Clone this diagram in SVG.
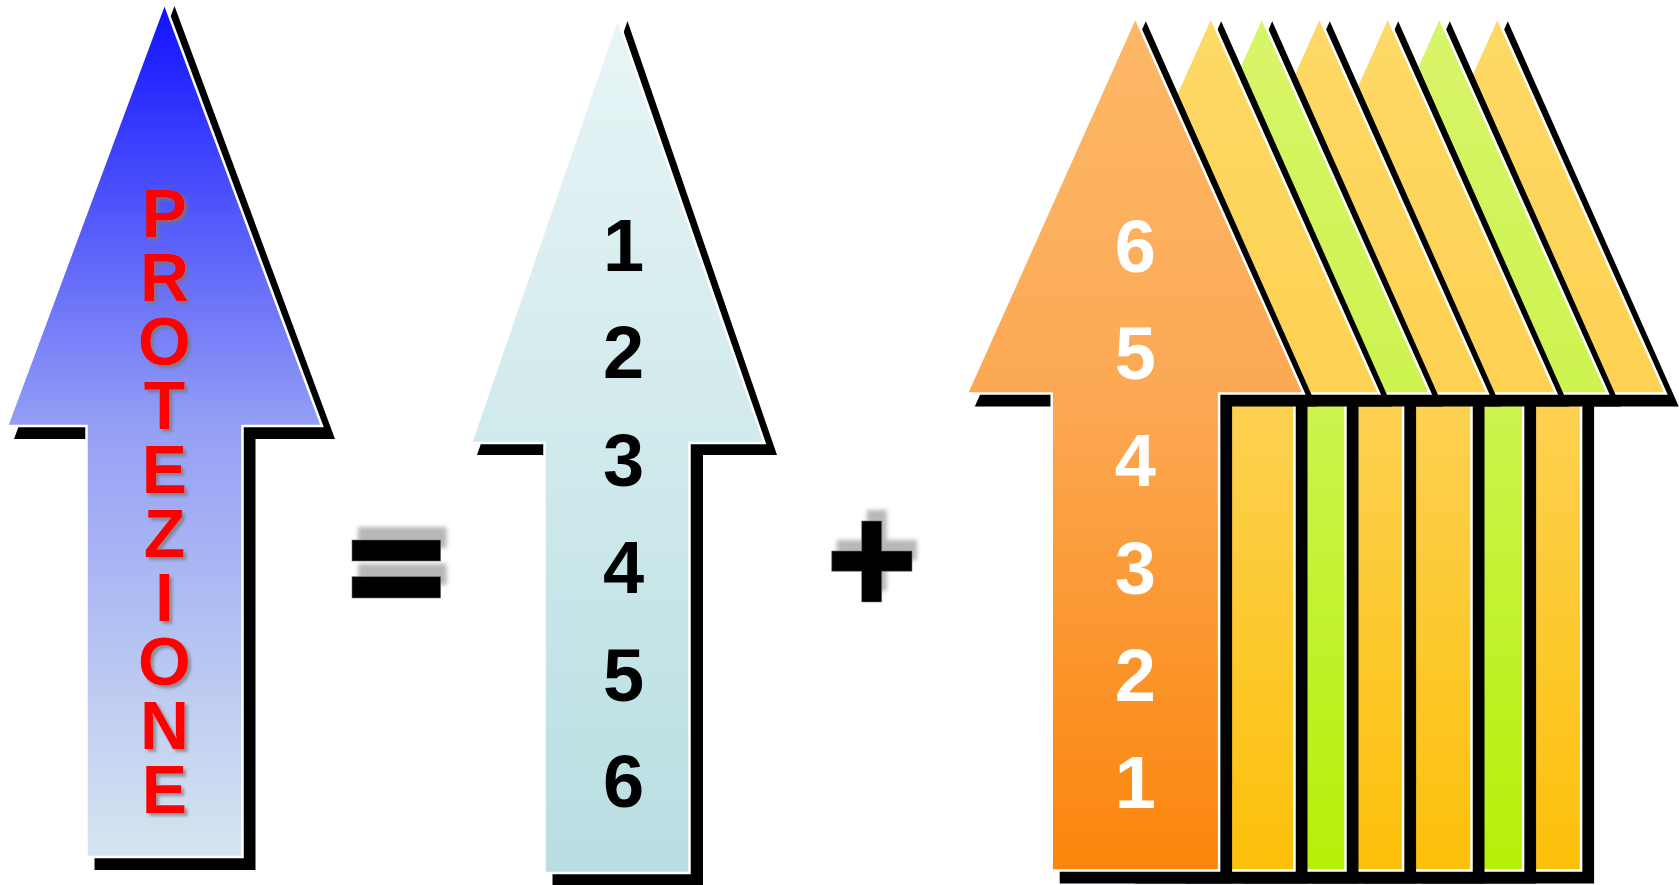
<svg xmlns="http://www.w3.org/2000/svg" xmlns:xlink="http://www.w3.org/1999/xlink" width="1679" height="885" viewBox="0 0 1679 885">
<style>
  .shadow { fill: #000; }
  .outline { stroke: #fff; stroke-width: 2.5; stroke-linejoin: miter; }
  .letter { font-family: "Liberation Sans", Arial, sans-serif; font-weight: bold; font-size: 68px; fill: #ff0000; text-anchor: middle; }
  .digit { font-family: "Liberation Sans", Arial, sans-serif; font-weight: bold; font-size: 74px; text-anchor: middle; }
  .dk { fill: #000; }
  .wt { fill: #fff; }
  .sym { fill: #000; stroke: #777; stroke-width: 0.6; }
  .symsh { fill: #b8b8b8; }
</style>
<defs>
  <linearGradient id="gBlue" x1="0" y1="0" x2="0" y2="1">
    <stop offset="0" stop-color="#1010ff"/>
    <stop offset="0.5" stop-color="#95a0f5"/>
    <stop offset="1" stop-color="#d6e6ef"/>
  </linearGradient>
  <linearGradient id="gCyan" x1="0" y1="0" x2="0" y2="1">
    <stop offset="0" stop-color="#e8f5f6"/>
    <stop offset="1" stop-color="#b8dee2"/>
  </linearGradient>
  <linearGradient id="gOrange" x1="0" y1="0" x2="0" y2="1">
    <stop offset="0" stop-color="#fdb868"/>
    <stop offset="0.45" stop-color="#fca853"/>
    <stop offset="1" stop-color="#fb850c"/>
  </linearGradient>
  <linearGradient id="gYellow" x1="0" y1="0" x2="0" y2="1">
    <stop offset="0" stop-color="#fdd966"/>
    <stop offset="0.45" stop-color="#fdd152"/>
    <stop offset="1" stop-color="#fcc00a"/>
  </linearGradient>
  <linearGradient id="gGreen" x1="0" y1="0" x2="0" y2="1">
    <stop offset="0" stop-color="#d8f56a"/>
    <stop offset="0.45" stop-color="#cdf34e"/>
    <stop offset="1" stop-color="#b6f008"/>
  </linearGradient>
  <filter id="txtSh" x="-30%" y="-30%" width="160%" height="160%">
    <feDropShadow dx="3" dy="3" stdDeviation="1.5" flood-color="#777" flood-opacity="0.7"/>
  </filter>
  <filter id="blur" x="-20%" y="-50%" width="140%" height="200%">
    <feGaussianBlur stdDeviation="2.2"/>
  </filter>
  <path id="arR" d="M0,0 L168.5,376.2 L83.8,376.2 L83.8,853.3 L-83.6,853.3 L-83.6,376.2 L-168.5,376.2 Z"/>
  <path id="shR" d="M10.5,4 L181.5,389.2 L96.8,389.2 L96.8,866.3 L-75.6,866.3 L-75.6,389.2 L-160.5,389.2 Z"/>
</defs>

<g id="arrow-protezione">
  <polygon class="shadow" points="174.5,6 335,439 255.5,439 255.5,870 94.5,870 94.5,439 14,439"/>
  <polygon class="outline" fill="url(#gBlue)" points="164.5,3 322,426 242.5,426 242.5,857 86.5,857 86.5,426 7,426"/>
  <text class="letter" filter="url(#txtSh)"><tspan x="164.5" y="237">P</tspan><tspan x="164.5" y="301">R</tspan><tspan x="164.5" y="365">O</tspan><tspan x="164.5" y="429">T</tspan><tspan x="164.5" y="493">E</tspan><tspan x="164.5" y="557">Z</tspan><tspan x="164.5" y="621">I</tspan><tspan x="164.5" y="685">O</tspan><tspan x="164.5" y="749">N</tspan><tspan x="164.5" y="813">E</tspan></text>
</g>

<g id="equals">
  <g filter="url(#blur)">
    <rect class="symsh" x="358" y="527" width="88.7" height="21"/>
    <rect class="symsh" x="358" y="563.7" width="88.7" height="21.3"/>
  </g>
  <rect class="sym" x="352" y="540" width="88.7" height="21"/>
  <rect class="sym" x="352" y="576.7" width="88.7" height="21.3"/>
</g>

<g id="arrow-numbers">
  <polygon class="shadow" points="627.5,21 777,455 703,455 703,886 552.5,886 552.5,455 477,455"/>
  <polygon class="outline" fill="url(#gCyan)" points="617.5,18 764.5,443 689.5,443 689.5,873 544.5,873 544.5,443 471,443"/>
  <text class="digit dk" x="623.5" y="271">1</text>
  <text class="digit dk" x="623.5" y="378">2</text>
  <text class="digit dk" x="623.5" y="486">3</text>
  <text class="digit dk" x="623.5" y="593">4</text>
  <text class="digit dk" x="623.5" y="701">5</text>
  <text class="digit dk" x="623.5" y="807">6</text>
</g>

<g id="plus">
  <g filter="url(#blur)">
    <rect class="symsh" x="866.7" y="510" width="20" height="81"/>
    <rect class="symsh" x="836.7" y="540" width="80.3" height="20.3"/>
  </g>
  <path class="sym" d="M861.7,521 H881.7 V551 H912 V571.3 H881.7 V602 H861.7 V571.3 H831.7 V551 H861.7 Z"/>
</g>

<g id="arrow-stack">
  <g id="stack-yellow-4" transform="translate(1497.3,17.3)">
    <use xlink:href="#shR" class="shadow"/>
    <use xlink:href="#arR" class="outline" fill="url(#gYellow)"/>
  </g>
  <g id="stack-green-2" transform="translate(1439.3,17.3)">
    <use xlink:href="#shR" class="shadow"/>
    <use xlink:href="#arR" class="outline" fill="url(#gGreen)"/>
  </g>
  <g id="stack-yellow-3" transform="translate(1387.7,17.3)">
    <use xlink:href="#shR" class="shadow"/>
    <use xlink:href="#arR" class="outline" fill="url(#gYellow)"/>
  </g>
  <g id="stack-yellow-2" transform="translate(1319.3,17.3)">
    <use xlink:href="#shR" class="shadow"/>
    <use xlink:href="#arR" class="outline" fill="url(#gYellow)"/>
  </g>
  <g id="stack-green-1" transform="translate(1261.7,17.3)">
    <use xlink:href="#shR" class="shadow"/>
    <use xlink:href="#arR" class="outline" fill="url(#gGreen)"/>
  </g>
  <g id="stack-yellow-1" transform="translate(1210.7,17.3)">
    <use xlink:href="#shR" class="shadow"/>
    <use xlink:href="#arR" class="outline" fill="url(#gYellow)"/>
  </g>
  <g id="stack-orange" transform="translate(1135.3,17.3)">
    <use xlink:href="#shR" class="shadow"/>
    <use xlink:href="#arR" class="outline" fill="url(#gOrange)"/>
  </g>
  <text class="digit wt" x="1135.3" y="271.5">6</text>
  <text class="digit wt" x="1135.3" y="379">5</text>
  <text class="digit wt" x="1135.3" y="486">4</text>
  <text class="digit wt" x="1135.3" y="594">3</text>
  <text class="digit wt" x="1135.3" y="701">2</text>
  <text class="digit wt" x="1135.3" y="808">1</text>
</g>

<g id="connectors"></g>
</svg>
